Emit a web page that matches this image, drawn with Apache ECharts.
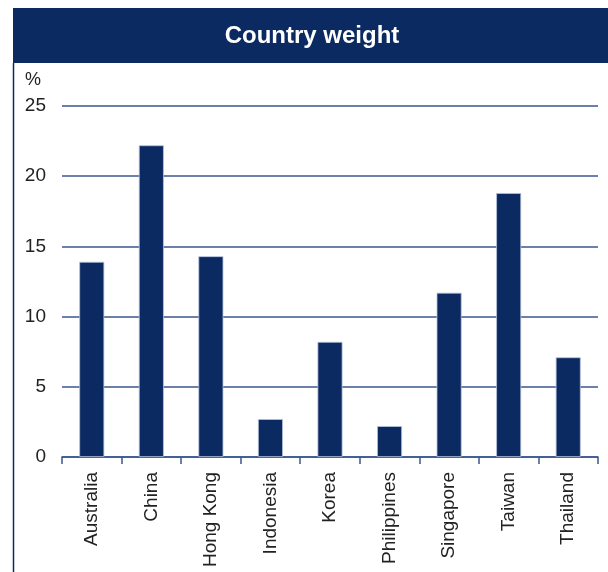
<!DOCTYPE html>
<html>
<head>
<meta charset="utf-8">
<script src="https://cdn.jsdelivr.net/npm/echarts@6/dist/echarts.min.js"></script>
<style>
html,body{margin:0;padding:0;background:#fff;}
#chart{width:608px;height:572px;}
</style>
</head>
<body>
<div id="chart"></div>
<script>
const categories = ["Australia","China","Hong Kong","Indonesia","Korea","Philippines","Singapore","Taiwan","Thailand"];
const weights = [13.9, 22.2, 14.3, 2.7, 8.2, 2.2, 11.7, 18.8, 7.1];
const titleText = "Country weight";
const unitText = "%";

const navy = "#0c2a62";
const lineCol = "#3a5690";
const font = "'Liberation Sans', Arial, sans-serif";

const chart = echarts.init(document.getElementById('chart'), null, {renderer:'canvas'});
chart.setOption({
  animation: false,
  backgroundColor: '#fff',
  graphic: [
    {type:'rect', left:13, top:8, shape:{width:595, height:55}, style:{fill:navy}, z:10},
    {type:'line', shape:{x1:13.5, y1:63, x2:13.5, y2:572}, style:{stroke:navy, lineWidth:1.5}, z:10},
    {type:'text', x:312, y:36, style:{text:titleText, fill:'#fff', font:"bold 24px " + font, align:'center', verticalAlign:'middle'}, z:11},
    {type:'text', left:25, top:71, style:{text:unitText, fill:'#222', font:"18px " + font}, z:11}
  ],
  grid: {left:62, right:10, top:106, bottom:115, containLabel:false},
  xAxis: {
    type:'category',
    data: categories,
    axisLine:{show:true, lineStyle:{color:lineCol, width:1.5}},
    axisTick:{show:true, length:7, lineStyle:{color:lineCol, width:1.5}},
    axisLabel:{rotate:90, margin:15, color:'#222', fontSize:19, fontFamily:font, interval:0}
  },
  yAxis: {
    type:'value',
    min:0, max:25, interval:5,
    axisLine:{show:false},
    axisTick:{show:false},
    axisLabel:{margin:16, color:'#222', fontSize:19, fontFamily:font},
    splitLine:{show:true, lineStyle:{color:lineCol, width:1.5}}
  },
  series: [{
    type:'bar',
    data: weights,
    barWidth:25,
    itemStyle:{color:navy, borderColor:'#b8c2dc', borderWidth:0.8},
    z:3
  }]
});
</script>
</body>
</html>
